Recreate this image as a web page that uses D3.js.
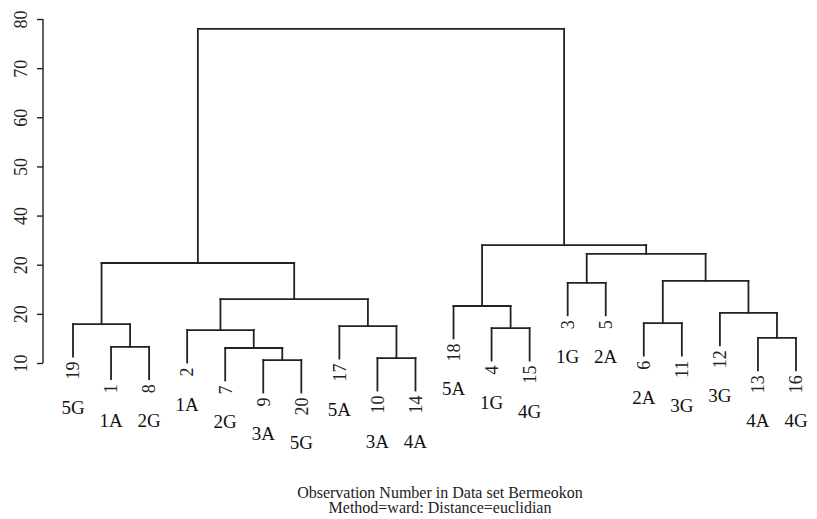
<!DOCTYPE html>
<html>
<head>
<meta charset="utf-8">
<script src="https://cdn.jsdelivr.net/npm/d3@7"></script>
<style>
  body { margin: 0; background: #fff; }
  text { font-family: "Liberation Serif", "DejaVu Serif", serif; fill: #222; }
</style>
</head>
<body>
<svg id="chart" width="817" height="519"></svg>
<script>
// leaf order, left to right, as observation numbers
var leafOrder = [19, 1, 8, 2, 7, 9, 20, 17, 10, 14, 18, 4, 15, 3, 5, 6, 11, 12, 13, 16];
// group code printed under each leaf (same order)
var groupLabels = ["5G", "1A", "2G", "1A", "2G", "3A", "5G", "5A", "3A", "4A",
                   "5A", "1G", "4G", "1G", "2A", "2A", "3G", "3G", "4A", "4G"];
// hclust-style merge table: negative = observation, positive = earlier merge row (1-based)
var mergeLeft  = [-9, -10, -7, -1, -13, -2, -4, -17, -19, -6, -12, -18, 6, -3, 10, 9, 14, 12, 16];
var mergeRight = [-20, -14, 1, -8, -16, 3, -15, 2, 4, -11, 5, 7, 8, -5, 11, 13, 15, 17, 18];
var mergeHeight = [10.6, 11.0, 13.05, 13.3, 15.1, 16.7, 17.1, 17.5, 17.9, 18.1,
                   20.2, 21.6, 23.0, 26.3, 26.7, 30.35, 32.2, 34.0, 78.0];
// tick values and the labels as printed on the axis
var tickValues = [10, 20, 30, 40, 50, 60, 70, 80];
var tickLabels = ["10", "20", "20", "40", "50", "60", "70", "80"];
var xTitle = ["Observation Number in Data set Bermeokon", "Method=ward: Distance=euclidian"];

var HANG = 6.6,
    INK = "#222";

var svg = d3.select("#chart");

var x = d3.scalePoint().domain(leafOrder).range([73, 796]),
    y = d3.scaleLinear().domain([10, 80]).range([363, 19]);

// y axis
var axis = d3.axisLeft(y).tickValues(tickValues).tickSize(6)
  .tickFormat(function (d, i) { return tickLabels[i]; });

var gAxis = svg.append("g").attr("transform", "translate(43,0)").call(axis);
gAxis.select(".domain").attr("stroke", INK).attr("stroke-width", 1.4).attr("d", "M0," + y(10) + "V" + y(80));
gAxis.selectAll(".tick line").attr("stroke", INK).attr("stroke-width", 1.4);
gAxis.selectAll(".tick text")
  .attr("x", null).attr("dy", null)
  .attr("transform", "translate(-16,0) rotate(-90)")
  .attr("text-anchor", "middle")
  .style("font-family", "Liberation Serif, serif")
  .style("font-size", "18px")
  .attr("fill", INK);

// build nodes from merge table
var nodes = [];
function childInfo(ref) {
  if (ref < 0) {
    return { leaf: true, id: -ref, x: x(-ref) };
  }
  return nodes[ref - 1];
}
mergeHeight.forEach(function (h, i) {
  var a = childInfo(mergeLeft[i]),
      b = childInfo(mergeRight[i]);
  nodes.push({ leaf: false, a: a, b: b, h: h, x: (a.x + b.x) / 2 });
});

var segs = [],
    leafEnds = {};
nodes.forEach(function (n) {
  segs.push([n.a.x, n.h, n.b.x, n.h]);
  [n.a, n.b].forEach(function (c) {
    var bottom = c.leaf ? n.h - HANG : c.h;
    if (c.leaf) leafEnds[c.id] = bottom;
    segs.push([c.x, n.h, c.x, bottom]);
  });
});

svg.append("g").selectAll("line").data(segs).join("line")
  .attr("x1", function (d) { return d[0]; })
  .attr("y1", function (d) { return y(d[1]); })
  .attr("x2", function (d) { return d[2]; })
  .attr("y2", function (d) { return y(d[3]); })
  .attr("stroke", INK)
  .attr("stroke-width", 1.8)
  .attr("stroke-linecap", "square");

// leaf numbers, rotated
var leafG = svg.append("g").selectAll("g").data(leafOrder).join("g");
var numText = leafG.append("text")
  .attr("transform", function (d) {
    return "translate(" + x(d) + "," + (y(leafEnds[d]) + 5) + ") rotate(-90)";
  })
  .attr("text-anchor", "end")
  .attr("dy", "0.35em")
  .style("font-size", "18px")
  .text(function (d) { return d; });

// group codes under the numbers
leafG.append("text")
  .attr("x", function (d) { return x(d); })
  .attr("y", function (d, i) {
    var len = numText.nodes()[i].getComputedTextLength();
    return y(leafEnds[d]) + 5 + len + 34;
  })
  .attr("text-anchor", "middle")
  .style("font-size", "19px")
  .style("fill", "#111")
  .text(function (d, i) { return groupLabels[i]; });

// x title
svg.append("g").selectAll("text").data(xTitle).join("text")
  .attr("x", 440)
  .attr("y", function (d, i) { return 498 + i * 15; })
  .attr("text-anchor", "middle")
  .style("font-size", "16px")
  .text(function (d) { return d; });
</script>
</body>
</html>
